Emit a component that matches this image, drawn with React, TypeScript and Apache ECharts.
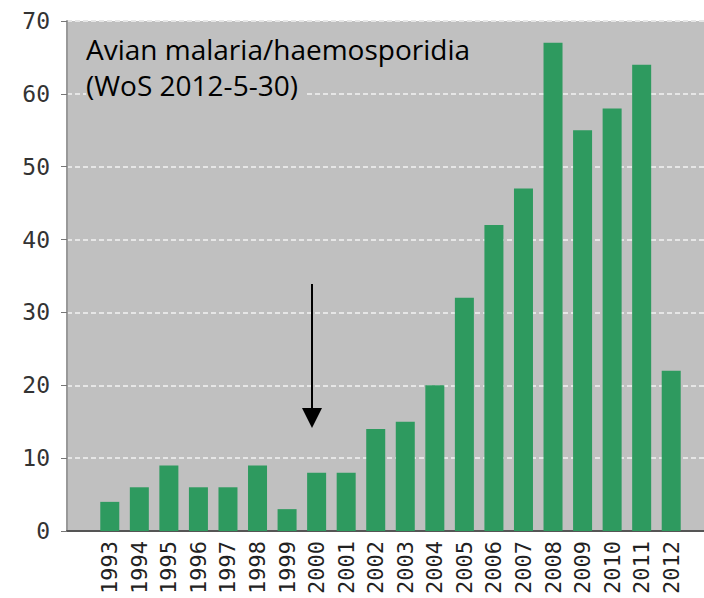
import React, { useEffect, useRef } from "react";
import * as echarts from "echarts";

const years = ["1993","1994","1995","1996","1997","1998","1999","2000","2001","2002","2003","2004","2005","2006","2007","2008","2009","2010","2011","2012"];
const counts = [4, 6, 9, 6, 6, 9, 3, 8, 8, 14, 15, 20, 32, 42, 47, 67, 55, 58, 64, 22];
const yTicks = { min: 0, max: 70, interval: 10 };
const noteLines = ["Avian malaria/haemosporidia", "(WoS 2012-5-30)"];

export default function App() {
  const ref = useRef<HTMLDivElement>(null);
  useEffect(() => {
    document.body.style.margin = "0";
    const chart = echarts.init(ref.current!, null, { renderer: "svg" });
    const mono = "DejaVu Sans Mono";
    chart.setOption({
      animation: false,
      grid: [
        { left: 67, right: 0, top: 21, bottom: 67, show: true, backgroundColor: "#c0c0c0", borderWidth: 0 },
        { left: 95, right: 18, top: 21, bottom: 67 },
      ],
      xAxis: [
        { gridIndex: 0, type: "category", data: years, show: true, axisLabel: { show: false }, axisTick: { show: false },
          axisLine: { show: true, lineStyle: { color: "#555", width: 2 } } },
        { gridIndex: 1, type: "category", data: years, axisLine: { show: false }, axisTick: { show: false },
          axisLabel: { rotate: 90, margin: 10, fontFamily: mono, fontSize: 22, color: "#222", interval: 0 } },
      ],
      yAxis: [
        { gridIndex: 0, type: "value", min: yTicks.min, max: yTicks.max, interval: yTicks.interval,
          axisLine: { show: true, lineStyle: { color: "#999", width: 2 } },
          axisTick: { show: true, length: 6, lineStyle: { color: "#777" } },
          axisLabel: { fontFamily: mono, fontSize: 23, color: "#333", margin: 17 },
          splitLine: { show: true, lineStyle: { color: "#e6e6e6", type: [5, 3], width: 2 } } },
        { gridIndex: 1, type: "value", min: yTicks.min, max: yTicks.max, interval: yTicks.interval, show: false,
          splitLine: { show: false } },
      ],
      series: [
        { type: "bar", xAxisIndex: 1, yAxisIndex: 1, data: counts, barWidth: 19,
          itemStyle: { color: "#2e9a5f" } },
      ],
      graphic: [
        { type: "rect", z: 20, shape: { x: 86, y: 84, width: 218, height: 18 }, style: { fill: "#c0c0c0" } },
        { type: "text", z: 21, left: 86, top: 35, style: { text: noteLines[0], fontFamily: "Open Sans", fontSize: 28, fill: "#000" } },
        { type: "text", z: 21, left: 86, top: 71, style: { text: noteLines[1], fontFamily: "Open Sans", fontSize: 28, fill: "#000" } },
        { type: "line", z: 21, shape: { x1: 312, y1: 284, x2: 312, y2: 412 }, style: { stroke: "#000", lineWidth: 2 } },
        { type: "polygon", z: 21, shape: { points: [[302, 408], [322, 408], [312, 428]] }, style: { fill: "#000" } },
      ],
    });
    return () => chart.dispose();
  }, []);
  return <div ref={ref} style={{ width: 704, height: 598 }} />;
}
